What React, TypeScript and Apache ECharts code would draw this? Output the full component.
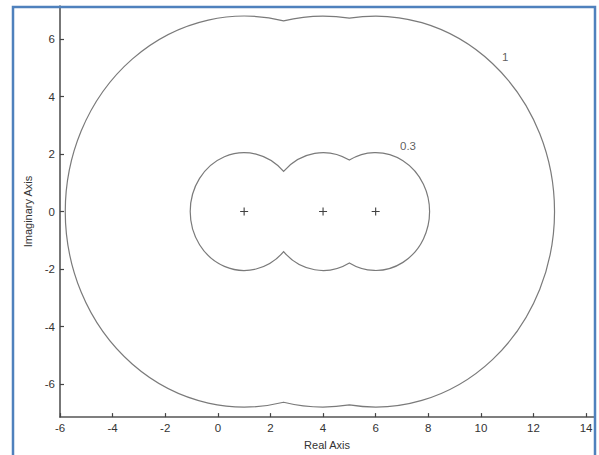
import React, { useEffect, useRef } from "react";
import * as echarts from "echarts";

// Pole locations on the real axis (imaginary part 0)
const poleReal = [1, 4, 6];
const poleImag = [0, 0, 0];

// Level curves: label and radius of the circles around each pole
const levelNames = ["0.3", "1"];
const levelRadii = [2.05, 6.8];

// Where each level label is written [x, y]
const levelLabelX = [7.23, 10.92];
const levelLabelY = [2.29, 5.38];

// Tick labels
const xTicks = [-6, -4, -2, 0, 2, 4, 6, 8, 10, 12, 14];
const yTicks = [-6, -4, -2, 0, 2, 4, 6];

const FONT = "'Liberation Sans', Arial, sans-serif";

// Outline of the union of equal circles centred on the poles,
// traced clockwise as elliptical arcs in pixel space.
function outlinePath(api: any, r: number): string {
  const c = poleReal;
  const n = c.length;
  const rx = Math.abs(api.size([r, 0])[0]);
  const ry = Math.abs(api.size([0, r])[1]);
  const P = (x: number, y: number) => {
    const p = api.coord([x, y]);
    return `${p[0].toFixed(2)} ${p[1].toFixed(2)}`;
  };
  const arc = (ci: number, x0: number, y0: number, x1: number, y1: number) => {
    const a0 = Math.atan2(y0, x0 - ci);
    const a1 = Math.atan2(y1, x1 - ci);
    // clockwise sweep in data space = decreasing angle
    let span = a0 - a1;
    while (span < 0) span += 2 * Math.PI;
    while (span >= 2 * Math.PI) span -= 2 * Math.PI;
    const large = span > Math.PI ? 1 : 0;
    return ` A ${rx.toFixed(2)} ${ry.toFixed(2)} 0 ${large} 1 ${P(x1, y1)}`;
  };
  // upper half, left to right
  let x = c[0] - r;
  let y = 0;
  let d = `M ${P(x, y)}`;
  for (let i = 0; i < n; i++) {
    let nx: number, ny: number;
    if (i < n - 1) {
      nx = (c[i] + c[i + 1]) / 2;
      ny = Math.sqrt(r * r - (nx - c[i]) ** 2);
    } else {
      nx = c[i] + r;
      ny = 0;
    }
    d += arc(c[i], x, y, nx, ny);
    x = nx;
    y = ny;
  }
  // lower half, right to left
  for (let i = n - 1; i >= 0; i--) {
    let nx: number, ny: number;
    if (i > 0) {
      nx = (c[i] + c[i - 1]) / 2;
      ny = -Math.sqrt(r * r - (nx - c[i]) ** 2);
    } else {
      nx = c[i] - r;
      ny = 0;
    }
    d += arc(c[i], x, y, nx, ny);
    x = nx;
    y = ny;
  }
  return d + " Z";
}

export default function App() {
  const ref = useRef<HTMLDivElement>(null);

  useEffect(() => {
    if (!ref.current) return;
    const chart = echarts.init(ref.current, null, { renderer: "svg" });

    const axisCommon = {
      axisLine: { onZero: false, lineStyle: { color: "#555", width: 1.6 } },
      axisTick: { inside: true, length: 4, lineStyle: { color: "#444", width: 1.2 } },
      splitLine: { show: false },
      nameTextStyle: { color: "#333", fontSize: 11, fontFamily: FONT },
    };

    const labelStyle = {
      color: "#333",
      fontSize: 11.5,
      fontFamily: FONT,
      margin: 5,
    };

    chart.setOption({
      animation: false,
      backgroundColor: "#fff",
      grid: { left: 60, right: 5, top: 6, bottom: 37 },
      xAxis: {
        type: "value",
        min: -6,
        max: 14.3,
        name: "Real Axis",
        nameLocation: "middle",
        nameGap: 18,
        ...axisCommon,
        axisTick: { ...axisCommon.axisTick, customValues: xTicks },
        axisLabel: { ...labelStyle, customValues: xTicks },
      },
      yAxis: {
        type: "value",
        min: -7.15,
        max: 7.15,
        name: "Imaginary Axis",
        nameLocation: "middle",
        nameGap: 14,
        ...axisCommon,
        axisTick: { ...axisCommon.axisTick, customValues: yTicks },
        axisLabel: { ...labelStyle, customValues: yTicks },
      },
      series: [
        {
          type: "custom",
          coordinateSystem: "cartesian2d",
          silent: true,
          data: levelRadii.map((r, i) => [i, r]),
          encode: { x: -1, y: -1 },
          renderItem: (_params: any, api: any) => {
            const r = api.value(1);
            return {
              type: "path",
              shape: { pathData: outlinePath(api, r) },
              style: { fill: "none", stroke: "#7a7a7a", lineWidth: 1.2 },
            };
          },
        },
        {
          type: "scatter",
          silent: true,
          symbol: "path://M5 0V10M0 5H10",
          symbolSize: 8,
          itemStyle: { color: "none", borderColor: "#111", borderWidth: 1.1 },
          data: poleReal.map((x, i) => [x, poleImag[i]]),
        },
        {
          type: "scatter",
          silent: true,
          symbolSize: 0,
          label: {
            show: true,
            position: "inside",
            color: "#333",
            fontSize: 11.5,
            fontFamily: FONT,
            formatter: (p: any) => p.data[2],
          },
          data: levelNames.map((name, i) => [levelLabelX[i], levelLabelY[i], name]),
        },
      ],
      graphic: [
        {
          type: "polyline",
          silent: true,
          shape: { points: [[13, 460], [13, 7], [595, 7], [595, 460]] },
          style: { fill: "none", stroke: "#4f81bd", lineWidth: 2.5 },
          z: 100,
        },
      ],
    });

    return () => chart.dispose();
  }, []);

  return (
    <div
      ref={ref}
      style={{ position: "fixed", left: 0, top: 0, width: 599, height: 455 }}
    />
  );
}
